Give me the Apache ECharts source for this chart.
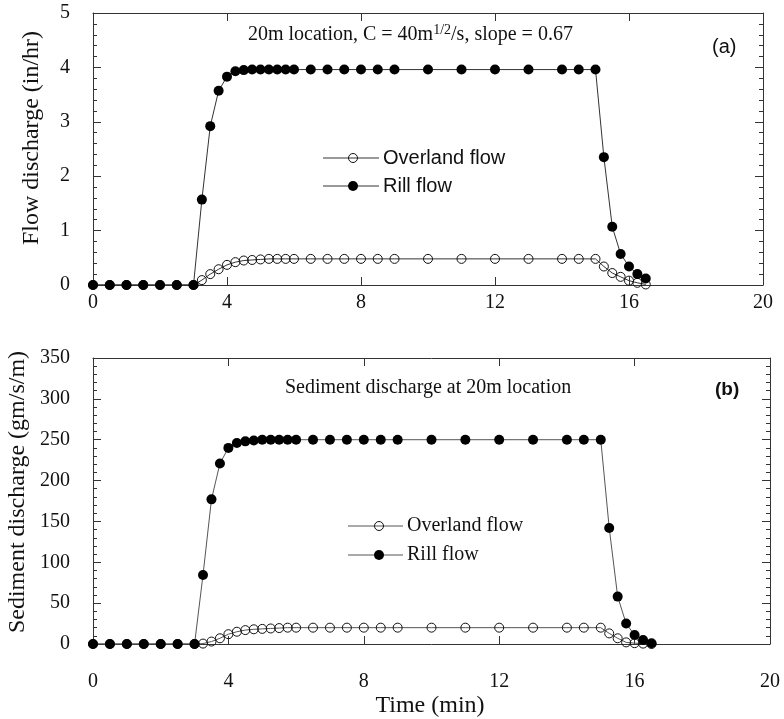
<!DOCTYPE html>
<html>
<head>
<meta charset="utf-8">
<script src="https://cdn.jsdelivr.net/npm/echarts@6/dist/echarts.min.js"></script>
<style>html,body{margin:0;padding:0;background:#fff;}#c{width:784px;height:719px;}</style>
</head>
<body>
<div id="c"></div>
<script>
// ---- data ----
var time = [0,0.5,1,1.5,2,2.5,3,3.25,3.5,3.75,4,4.25,4.5,4.75,5,5.25,5.5,5.75,6,6.5,7,7.5,8,8.5,9,10,11,12,13,14,14.5,15,15.25,15.5,15.75,16,16.25,16.5];
var flowRill = [0,0,0,0,0,0,0,1.57,2.92,3.57,3.83,3.93,3.95,3.96,3.96,3.96,3.96,3.96,3.96,3.96,3.96,3.96,3.96,3.96,3.96,3.96,3.96,3.96,3.96,3.96,3.96,3.96,2.35,1.07,0.57,0.34,0.20,0.12];
var flowOverland = [0,0,0,0,0,0,0,0.09,0.20,0.29,0.37,0.42,0.45,0.46,0.47,0.48,0.48,0.48,0.48,0.48,0.48,0.48,0.48,0.48,0.48,0.48,0.48,0.48,0.48,0.48,0.48,0.48,0.34,0.22,0.15,0.08,0.04,0.01];
var sedRill = [0,0,0,0,0,0,0,84.5,177,221,240,246,248,249,250,250,250,250,250,250,250,250,250,250,250,250,250,250,250,250,250,250,142,58,25,11,5,1];
var sedOverland = [0,0,0,0,0,0,0,0.5,3,7,12,15,17,18,18.5,19,19.5,20,20,20,20,20,20,20,20,20,20,20,20,20,20,20,13,7,2,1,0.5,0];
var xTicks = {min:0, max:20, interval:4};
var flowTicks = {min:0, max:5, interval:1};
var sedTicks = {min:0, max:350, interval:50};
var seriesNames = ['Overland flow','Rill flow'];

function pairs(xs, ys){ return xs.map(function(x,i){ return [x, ys[i]]; }); }

var SERIF = '"Liberation Serif","Times New Roman",serif';
var SANS = '"Liberation Sans",Arial,sans-serif';
var AX = '#333';

function xAx(grid, pos, showLabel, margin){
  return {
    type:'value', gridIndex:grid, position:pos, min:xTicks.min, max:xTicks.max, interval:xTicks.interval,
    axisLine:{show:true, onZero:false, lineStyle:{color:AX, width:1}},
    axisTick:{show:true, inside:true, length:8, lineStyle:{color:AX}},
    axisLabel:{show:showLabel, margin:margin, fontFamily:SERIF, fontSize:20, color:'#111'},
    splitLine:{show:false}
  };
}
function yAx(grid, pos, t, showLabel){
  return {
    type:'value', gridIndex:grid, position:pos, min:t.min, max:t.max, interval:t.interval,
    axisLine:{show:true, onZero:false, lineStyle:{color:AX, width:1}},
    axisTick:{show:true, inside:true, length:8, lineStyle:{color:AX}},
    minorTick:{show:true, splitNumber:5, length:4, lineStyle:{color:AX}},
    axisLabel:{show:showLabel, margin:23, fontFamily:SERIF, fontSize:20, color:'#111'},
    splitLine:{show:false}
  };
}
function overland(xi, yi, ys, lc){
  return {name:seriesNames[0], type:'line', xAxisIndex:xi, yAxisIndex:yi, data:pairs(time, ys),
    symbol:'circle', symbolSize:9, z:2,
    itemStyle:{color:'rgba(255,255,255,0)', borderColor:'#111', borderWidth:1},
    lineStyle:{color:lc, width:1}};
}
function rill(xi, yi, ys, lc){
  return {name:seriesNames[1], type:'line', xAxisIndex:xi, yAxisIndex:yi, data:pairs(time, ys),
    symbol:'circle', symbolSize:10, z:3,
    itemStyle:{color:'#000', borderColor:'#000', borderWidth:0},
    lineStyle:{color:lc, width:1}};
}
// legend key built as graphic: line + marker + label
function legendKey(x0, x1, xm, y, filled, label, font, lc){
  return {type:'group', children:[
    {type:'line', shape:{x1:x0, y1:y, x2:x1, y2:y}, style:{stroke:lc, lineWidth:1}},
    {type:'circle', shape:{cx:xm, cy:y, r: filled ? 5 : 4.5},
     style: filled ? {fill:'#000'} : {fill:'rgba(255,255,255,0)', stroke:'#111', lineWidth:1}},
    {type:'text', x:x1 + 4, y:y, style:{text:label, fill:'#111', font:font, verticalAlign:'middle'}}
  ]};
}

var chart = echarts.init(document.getElementById('c'), null, {renderer:'canvas'});
chart.setOption({
  animation:false,
  backgroundColor:'#fff',
  grid:[
    {left:93, top:13, width:670, height:272},
    {left:93, top:358, width:677, height:286}
  ],
  xAxis:[ xAx(0,'bottom',true,8), xAx(0,'top',false,8), xAx(1,'bottom',true,28), xAx(1,'top',false,8) ],
  yAxis:[ yAx(0,'left',flowTicks,true), yAx(0,'right',flowTicks,false), yAx(1,'left',sedTicks,true), yAx(1,'right',sedTicks,false) ],
  series:[
    overland(0,0,flowOverland,'#333'),
    rill(0,0,flowRill,'#333'),
    overland(2,2,sedOverland,'#555'),
    rill(2,2,sedRill,'#555')
  ],
  graphic:[
    {type:'text', x:248, y:35, style:{
      text:'20m location, C = 40m{sup|1/2}/s, slope = 0.67', fill:'#111', font:'20px '+SERIF, verticalAlign:'middle',
      rich:{sup:{fontSize:14, fontFamily:SERIF, fill:'#111', verticalAlign:'top', padding:[0,0,10,0]}}}},
    {type:'text', x:712, y:47, style:{text:'(a)', fill:'#111', font:'20px '+SANS, verticalAlign:'middle'}},
    {type:'text', x:285, y:388, style:{text:'Sediment discharge at 20m location', fill:'#111', font:'20px '+SERIF, verticalAlign:'middle'}},
    {type:'text', x:715, y:390, style:{text:'(b)', fill:'#111', font:'bold 19px '+SANS, verticalAlign:'middle'}},
    {type:'text', x:32, y:138, rotation:Math.PI/2, style:{text:'Flow discharge (in/hr)', fill:'#111', font:'24px '+SERIF, align:'center', verticalAlign:'middle'}},
    {type:'text', x:18, y:492, rotation:Math.PI/2, style:{text:'Sediment discharge (gm/s/m)', fill:'#111', font:'24px '+SERIF, align:'center', verticalAlign:'middle'}},
    {type:'text', x:430, y:706, style:{text:'Time (min)', fill:'#111', font:'24px '+SERIF, align:'center', verticalAlign:'middle'}},
    legendKey(323, 379, 353, 158, false, seriesNames[0], '20px '+SANS, '#333'),
    legendKey(323, 379, 353, 186, true, seriesNames[1], '20px '+SANS, '#333'),
    legendKey(348, 403, 379, 526, false, seriesNames[0], '20px '+SERIF, '#555'),
    legendKey(348, 403, 379, 555, true, seriesNames[1], '20px '+SERIF, '#555')
  ]
});
</script>
</body>
</html>
